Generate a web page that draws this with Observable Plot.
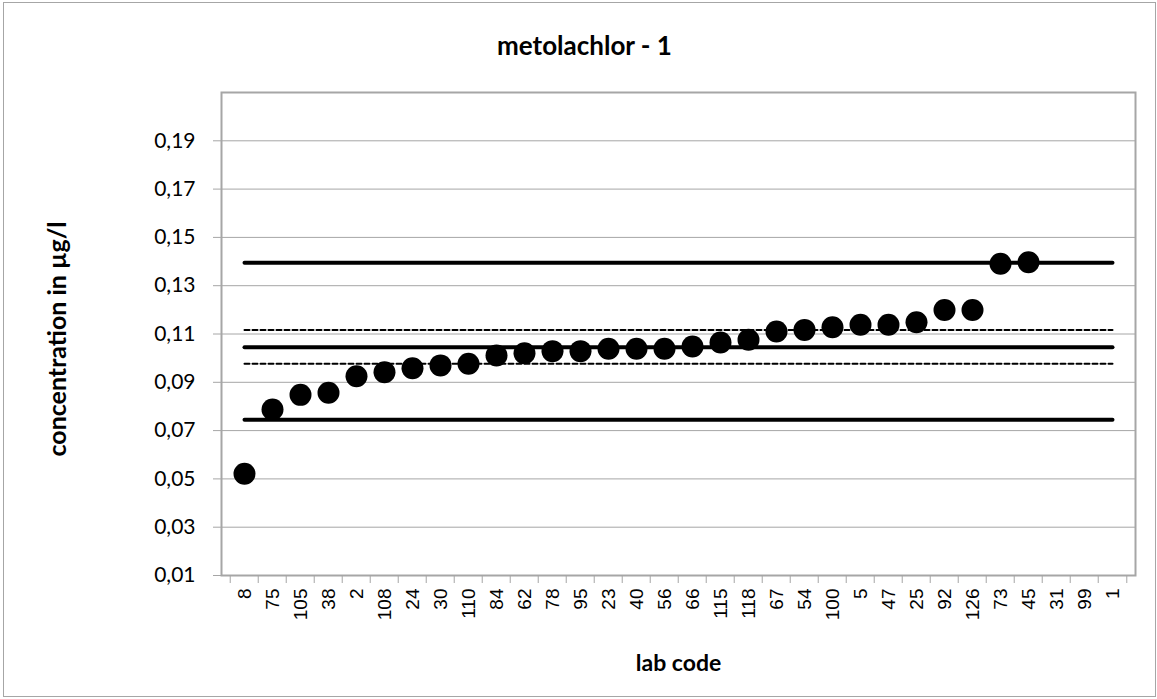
<!DOCTYPE html>
<html>
<head>
<meta charset="utf-8">
<script src="https://cdn.jsdelivr.net/npm/d3@7"></script>
<script src="https://cdn.jsdelivr.net/npm/@observablehq/plot@0.6"></script>
<style>
  html, body { margin: 0; padding: 0; background: #fff; }
  #chart svg { display: block; }
</style>
</head>
<body>
<div id="chart"></div>
<script>
// lab codes (x categories) in plotted order
const labs = ["8","75","105","38","2","108","24","30","110","84","62","78","95","23","40","56","66","115","118","67","54","100","5","47","25","92","126","73","45","31","99","1"];
// reported concentrations (µg/l); null = no result plotted
const concentrations = [0.0521,0.0787,0.0848,0.0857,0.0925,0.0942,0.0958,0.0970,0.0977,0.1011,0.1020,0.1029,0.1029,0.1039,0.1039,0.1039,0.1048,0.1065,0.1076,0.1110,0.1117,0.1128,0.1138,0.1138,0.1149,0.1199,0.1199,0.1391,0.1397,null,null,null];
// solid reference lines: lower limit, assigned value, upper limit
const limitLines = [0.0745, 0.1045, 0.1395];
// dashed reference lines: uncertainty band around assigned value
const uncertaintyLines = [0.0977, 0.1117];
// y tick values
const yTicks = [0.01,0.03,0.05,0.07,0.09,0.11,0.13,0.15,0.17,0.19];
const yDomain = [0.01, 0.21];

const W = 1157, H = 699;
const mL = 221, mR = 22, mT = 92, mB = 124;
const step = (W - mL - mR) / labs.length;

const points = labs.map((lab, i) => ({lab, value: concentrations[i]})).filter(d => d.value != null);
const solidRows = limitLines.flatMap((v, k) => labs.map(lab => ({lab, v, k})));
const dashRows = uncertaintyLines.flatMap((v, k) => labs.map(lab => ({lab, v, k})));

const fmt = d => d.toFixed(2).replace(".", ",");
const grey = "#a6a6a6";

const plot = Plot.plot({
  width: W, height: H,
  marginLeft: mL, marginRight: mR, marginTop: mT, marginBottom: mB,
  style: {background: "#fff", color: "#000"},
  x: {type: "point", domain: labs, padding: 0.5},
  y: {domain: yDomain},
  marks: [
    Plot.gridY(yTicks, {stroke: grey, strokeOpacity: 1, strokeWidth: 1}),
    Plot.frame({stroke: grey, strokeWidth: 2}),
    Plot.axisY(yTicks, {tickSize: 8, tickPadding: 18, stroke: grey, strokeWidth: 1, tickFormat: fmt,
      fontSize: 21, fontFamily: "Lato", fill: "#000", label: null}),
    Plot.axisX(labs, {tickSize: 0, tickPadding: 13, tickRotate: -90, fontSize: 19,
      fontFamily: "Liberation Sans", fill: "#000", label: null}),
    // x tick marks at category boundaries
    Plot.ruleX(labs, {x: d => d, y1: yDomain[0], y2: yDomain[0], dx: -step / 2, insetBottom: -8, stroke: grey, strokeWidth: 1}),
    Plot.ruleX(labs.slice(-1), {x: d => d, y1: yDomain[0], y2: yDomain[0], dx: step / 2, insetBottom: -8, stroke: grey, strokeWidth: 1}),
    Plot.lineY(solidRows, {x: "lab", y: "v", z: "k", stroke: "#000", strokeWidth: 4, strokeLinecap: "round"}),
    Plot.lineY(dashRows, {x: "lab", y: "v", z: "k", stroke: "#000", strokeWidth: 2, strokeDasharray: "5,3"}),
    Plot.dot(points, {x: "lab", y: "value", r: 11, fill: "#000", stroke: "none"}),
    Plot.text(["metolachlor - 1"], {frameAnchor: "top", lineAnchor: "middle", textAnchor: "middle", dy: -46, dx: -94,
      fontSize: 26, fontWeight: "bold", fontFamily: "Lato", fill: "#000"}),
    Plot.text(["concentration in µg/l"], {frameAnchor: "left", textAnchor: "middle", lineAnchor: "middle", dx: -164, dy: 5, rotate: -90,
      fontSize: 25, fontWeight: "bold", fontFamily: "Lato", fill: "#000"}),
    Plot.text(["lab code"], {frameAnchor: "bottom", lineAnchor: "middle", textAnchor: "middle", dy: 88,
      fontSize: 23, fontWeight: "bold", fontFamily: "Lato", fill: "#000"})
  ]
});

d3.select(plot).append("rect")
  .attr("x", 3.5).attr("y", 2.5).attr("width", W - 5).attr("height", H - 5)
  .attr("fill", "none").attr("stroke", "#a6a6a6").attr("stroke-width", 1);

document.getElementById("chart").appendChild(plot);
</script>
</body>
</html>
